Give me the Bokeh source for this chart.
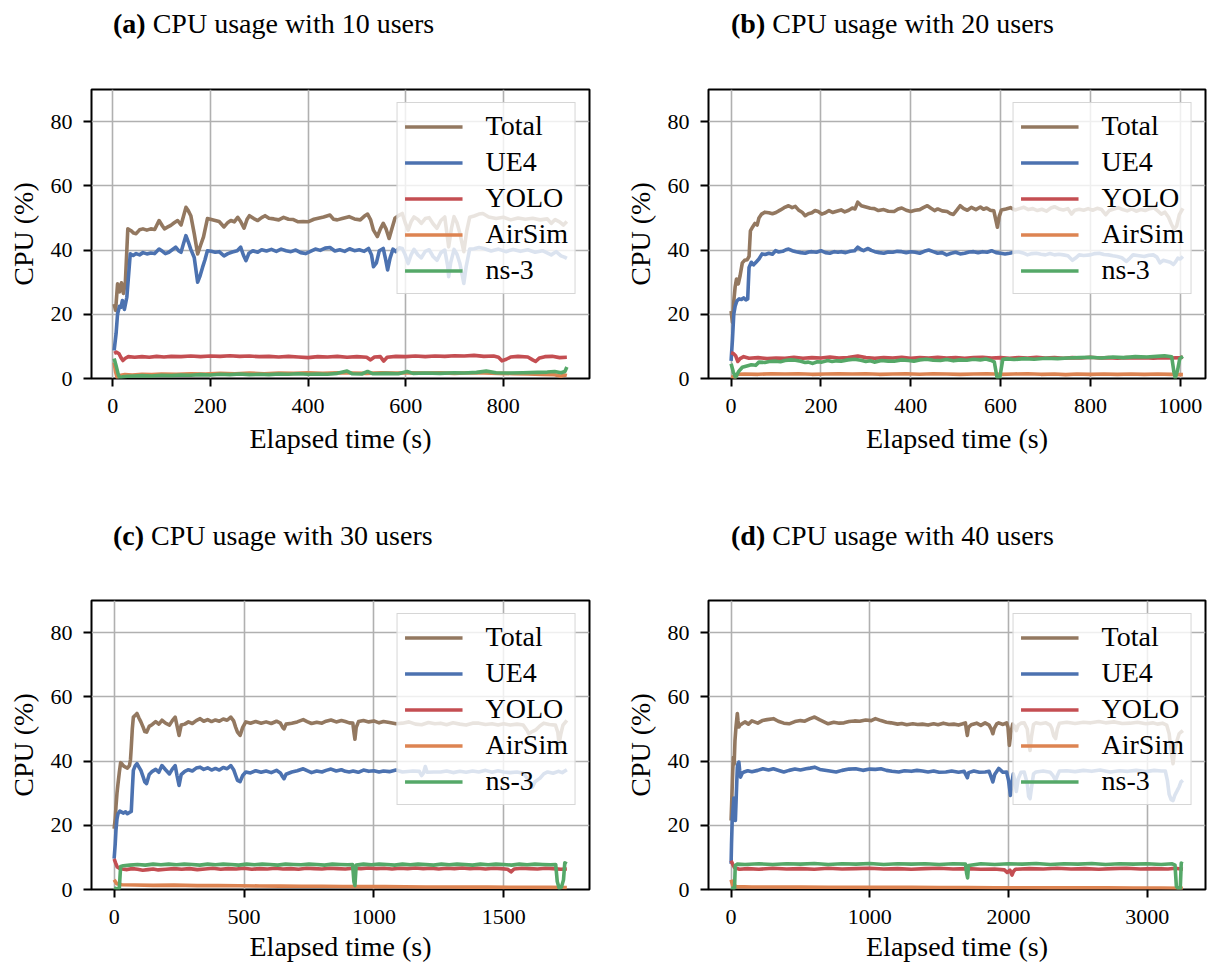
from bokeh.plotting import figure
from bokeh.models import Range1d, Legend, LegendItem, FixedTicker, Div
from bokeh.layouts import row, column
from bokeh.embed import file_html
from bokeh.resources import INLINE

FONT = "Liberation Serif"
SERIES = ["Total", "UE4", "YOLO", "AirSim", "ns-3"]
COLORS = ["#937860", "#4C72B0", "#C44E52", "#DD8452", "#55A868"]

USERS = [10, 20, 30, 40]
LETTERS = ["a", "b", "c", "d"]
X_TICKS_A = [0, 200, 400, 600, 800]
X_TICKS_B = [0, 200, 400, 600, 800, 1000]
X_TICKS_C = [0, 500, 1000, 1500]
X_TICKS_D = [0, 1000, 2000, 3000]
Y_TICKS = [0, 20, 40, 60, 80]

# ---------------- panel (a): 10 users ----------------
A_TOTAL = [(3, 23.2), (6, 21.2), (10, 29.5), (14, 27), (18, 29.8), (22, 26.5), (26, 30), (31, 46.6), (37, 46.1),
           (43, 45.3), (48, 45.1), (55, 46.3), (62, 46.6), (70, 46.2), (78, 46.6), (86, 46.4), (95, 49.2), (102, 47.5),
           (106, 46.6), (113, 47.2), (119, 47.7), (126, 48.5), (133, 49.2), (140, 47.8), (145, 50.5), (150, 53.3),
           (155, 52.2), (160, 50.7), (167, 45.1), (174, 38.8), (180, 41.5), (186, 44.1), (194, 49.8), (202, 49.5),
           (210, 49.2), (218, 48.9), (228, 47.2), (236, 48.6), (242, 49.2), (249, 48.8), (256, 50.2), (262, 48.9),
           (269, 46.8), (275, 49.5), (280, 50.7), (289, 49.8), (297, 49.2), (305, 50.1), (312, 50.7), (320, 49.9),
           (330, 49.7), (340, 49.4), (350, 50.2), (360, 49.6), (370, 49.5), (380, 48.8), (390, 48.9), (400, 48.8),
           (412, 49.6), (421, 49.9), (432, 50.3), (445, 50.9), (452, 49.6), (460, 49.4), (470, 49.8), (484, 50.4),
           (495, 49.7), (507, 49.4), (515, 50.5), (522, 51.2), (528, 49.5), (534, 46.2), (542, 44.2), (548, 46.5),
           (554, 48.3), (560, 46.5), (566, 43.6), (572, 46.8), (578, 49.9), (586, 50.8), (593, 51.4), (599, 48.5),
           (605, 46.2), (611, 48.8), (617, 50.3), (625, 49.5), (632, 48.3), (640, 49.8), (648, 50.1), (656, 48.2),
           (664, 46.8), (672, 49.2), (680, 50.3), (688, 41), (694, 47), (699, 50.4), (705, 48.5), (711, 45.2),
           (719, 39.5), (725, 46), (731, 50.2), (740, 50.6), (750, 51.2), (758, 51.4), (770, 50.3), (785, 49.8),
           (800, 50.2), (815, 49.4), (830, 50), (845, 49.6), (860, 49.9), (875, 49.4), (890, 49.7), (898, 48.3),
           (906, 49.5), (915, 48.8), (923, 47.8), (930, 48.9)]
A_UE4 = [(3, 8.7), (7, 14), (10, 20.1), (14, 22.5), (17, 22.2), (20, 24.3), (24, 21.5), (29, 25.3), (33, 33),
         (36, 38.8), (42, 38.3), (48, 38.9), (55, 38.5), (62, 39.2), (70, 38.8), (78, 39.1), (86, 38.9), (95, 40.3),
         (102, 39.6), (108, 38.9), (115, 39.3), (122, 40.1), (129, 40.9), (135, 39.8), (140, 39.3), (145, 42),
         (150, 44.5), (155, 42.5), (160, 40.2), (167, 37.7), (174, 30), (179, 32), (184, 34.6), (189, 37), (194, 39.8),
         (202, 39.6), (210, 39.3), (218, 39.5), (228, 38.2), (236, 38.9), (245, 39.4), (255, 39.8), (262, 40.9),
         (268, 38.3), (273, 36.7), (279, 39), (287, 39.8), (297, 39.3), (305, 40.1), (315, 39.7), (325, 40.2),
         (335, 39.6), (345, 40.3), (355, 39.8), (365, 39.5), (375, 40), (385, 39.2), (395, 38.9), (405, 39.6),
         (415, 40.3), (425, 39.9), (435, 40.6), (445, 40.8), (455, 39.7), (465, 40.1), (475, 39.6), (485, 40.4),
         (495, 39.8), (505, 40.1), (515, 39.6), (524, 40.5), (530, 38.5), (534, 34.8), (540, 36), (546, 39.8),
         (554, 40.5), (559, 37), (563, 33.8), (568, 37.5), (574, 40.3), (580, 39.5), (587, 40.7), (593, 40.5),
         (599, 38.5), (605, 35.8), (611, 38.5), (617, 40.2), (625, 38.5), (632, 37.6), (640, 39.6), (648, 40.1),
         (656, 38), (664, 36.8), (672, 39.2), (680, 40), (686, 35), (688, 31.7), (692, 36), (699, 40.2), (705, 38.7),
         (711, 35.8), (716, 32), (719, 29.6), (724, 35), (731, 40.3), (740, 40.4), (750, 40.8), (760, 40.5),
         (775, 39.7), (790, 40.3), (805, 39.5), (820, 40.2), (835, 39.6), (850, 40.1), (865, 39.3), (880, 39.8),
         (898, 38.5), (908, 39.5), (918, 38.2), (925, 37.8), (930, 37.4)]
A_YOLO = [(3, 7.8), (8, 8.2), (13, 7.7), (17, 6.5), (21, 5.6), (26, 6.3), (32, 6.8), (45, 6.6), (60, 6.8), (75, 6.6),
          (90, 6.9), (105, 6.7), (120, 6.9), (140, 6.8), (160, 7.0), (180, 6.8), (200, 7.0), (220, 6.9), (240, 7.1),
          (260, 6.9), (280, 7.0), (300, 6.8), (320, 6.9), (340, 6.7), (360, 6.9), (380, 6.7), (400, 6.5), (420, 6.8),
          (440, 6.7), (460, 6.9), (480, 6.6), (500, 6.8), (520, 6.6), (528, 5.8), (536, 6.7), (548, 6.8), (555, 5.4),
          (562, 6.6), (580, 6.9), (600, 6.8), (620, 7.0), (640, 6.8), (660, 7.0), (680, 6.9), (700, 7.1), (720, 7.0),
          (740, 7.2), (760, 6.9), (780, 7.0), (790, 6.6), (797, 5.5), (806, 6.0), (815, 6.7), (830, 6.9), (850, 6.7),
          (860, 5.8), (866, 5.3), (874, 6.4), (885, 6.8), (900, 6.9), (915, 6.5), (930, 6.6)]
A_AIRSIM = [(3, 5.0), (6, 2.0), (9, 0.4), (14, 0.9), (25, 1.2), (40, 1.1), (60, 1.3), (80, 1.2), (100, 1.4),
            (130, 1.3), (160, 1.5), (190, 1.4), (220, 1.6), (250, 1.5), (280, 1.7), (310, 1.5), (340, 1.7), (370, 1.6),
            (400, 1.8), (430, 1.6), (460, 1.8), (490, 1.7), (520, 1.6), (550, 1.8), (580, 1.7), (610, 1.8), (640, 1.7),
            (670, 1.8), (700, 1.6), (730, 1.8), (760, 1.7), (790, 1.6), (820, 1.5), (850, 1.4), (880, 1.3), (905, 1.2),
            (918, 0.7), (925, 1.1), (930, 0.9)]
A_NS3 = [(3, 6.2), (7, 4.0), (11, 1.5), (14, 0.3), (20, 0.5), (30, 0.7), (45, 0.8), (60, 0.9), (80, 0.8), (100, 1.0),
         (120, 0.9), (140, 1.1), (160, 1.0), (180, 1.2), (200, 1.1), (220, 1.3), (240, 1.2), (260, 1.4), (280, 1.2),
         (300, 1.3), (320, 1.2), (340, 1.4), (360, 1.3), (380, 1.5), (400, 1.3), (420, 1.4), (440, 1.3), (460, 1.6),
         (480, 2.3), (490, 1.5), (510, 1.4), (522, 2.2), (532, 1.5), (560, 1.6), (585, 1.5), (603, 2.2), (615, 1.6),
         (640, 1.7), (670, 1.6), (700, 1.8), (720, 1.7), (745, 1.9), (765, 2.3), (785, 1.8), (810, 1.7), (840, 1.8),
         (870, 1.9), (890, 2.0), (905, 2.2), (918, 1.8), (926, 2.2), (930, 3.6)]

# ---------------- panel (b): 20 users ----------------
B_TOTAL = [(0, 21), (3, 17.5), (6, 24), (9, 28.5), (12, 31), (16, 29.5), (20, 32), (25, 36), (30, 36.8), (36, 37),
           (40, 38), (43, 46), (48, 47.2), (53, 48.3), (58, 47.8), (62, 50), (68, 51.2), (75, 51.8), (84, 51.6),
           (92, 51.3), (100, 51.7), (110, 52.5), (118, 53.2), (128, 53.8), (136, 53.2), (143, 53.6), (150, 52.5),
           (158, 51.8), (165, 50.7), (172, 51.3), (180, 51.6), (187, 52.3), (194, 52), (202, 51.2), (210, 51.6),
           (218, 52.3), (226, 51.7), (235, 52.1), (245, 52.5), (253, 51.9), (262, 52.4), (270, 53.1), (276, 52.8),
           (282, 54.9), (290, 53.8), (300, 53.4), (310, 53), (319, 52.9), (328, 52.3), (340, 52.6), (350, 52.1),
           (363, 52), (372, 52.8), (380, 53.1), (390, 52.4), (400, 52), (410, 52.4), (420, 52.6), (428, 53.2),
           (437, 53.8), (445, 53), (453, 52.3), (460, 52.8), (470, 52.2), (481, 52), (488, 51.4), (495, 51.1),
           (503, 52.5), (510, 53.8), (518, 52.9), (526, 52.4), (535, 53.3), (545, 52.6), (555, 53.4), (562, 52.7),
           (569, 53.1), (577, 52.4), (585, 52.2), (590, 49), (593, 47.1), (597, 50.5), (602, 52.5), (612, 52.8),
           (622, 53.2), (632, 52.5), (642, 52.9), (652, 53.3), (662, 52.6), (672, 52.9), (682, 52.3), (692, 52.7),
           (702, 52.1), (712, 53.1), (720, 53.5), (730, 52.8), (740, 52.5), (750, 52.9), (758, 51.2), (765, 52.4),
           (775, 52.7), (785, 52.4), (795, 52.9), (805, 52.4), (815, 53), (825, 52.6), (834, 51), (842, 52.3),
           (852, 52.8), (862, 53.2), (872, 52.6), (882, 52.2), (892, 52.8), (902, 52.1), (912, 52.6), (922, 52.3),
           (932, 52.9), (942, 53.1), (950, 52.2), (958, 51.2), (966, 51.8), (974, 50.2), (980, 48.2), (986, 46.5),
           (992, 47.5), (998, 51), (1006, 53)]
B_UE4 = [(0, 5.5), (3, 12), (6, 20), (9, 22.5), (13, 24.2), (18, 24.8), (23, 24.6), (28, 25.1), (33, 24.5),
         (37, 24.8), (40, 34.6), (45, 36.2), (50, 35.4), (56, 36.3), (62, 37.2), (69, 38.8), (76, 38.6), (84, 39),
         (92, 38.7), (99, 39.8), (106, 39.4), (115, 39.6), (122, 40.1), (128, 40.3), (136, 39.8), (145, 39.5),
         (155, 39.2), (165, 39), (173, 39.4), (180, 39.5), (190, 39.3), (200, 39.8), (210, 39.2), (220, 39),
         (230, 39.5), (238, 39.3), (245, 39.5), (255, 39.2), (265, 39.6), (275, 39.8), (282, 40.9), (290, 40.1),
         (295, 39.8), (305, 40.5), (312, 39.9), (320, 39.5), (330, 39.2), (340, 39), (350, 39.4), (360, 39.3),
         (370, 39.6), (380, 39.5), (390, 39.2), (400, 39.5), (410, 39.3), (420, 39), (430, 39.6), (440, 40),
         (450, 39.5), (460, 39), (470, 39.2), (480, 38.5), (490, 39), (500, 39.3), (510, 38.8), (520, 39), (530, 39.4),
         (540, 39.5), (550, 39.2), (560, 39.5), (570, 39.3), (580, 39.8), (590, 39.2), (600, 39), (610, 38.8),
         (620, 39), (630, 39.3), (640, 39.5), (650, 39.1), (660, 38.5), (670, 38.9), (680, 39), (690, 38.7),
         (700, 38.5), (710, 38.9), (720, 38.5), (730, 38.7), (740, 38.5), (750, 38.2), (760, 36.8), (767, 37.5),
         (775, 38.5), (785, 38.3), (800, 38.5), (810, 38.9), (820, 39), (830, 38.6), (840, 38.5), (850, 38.2),
         (860, 38), (870, 37.6), (880, 36.5), (888, 37.5), (895, 38.5), (905, 38.3), (920, 38), (930, 38.4),
         (940, 38.5), (948, 37.8), (955, 36), (962, 36.8), (970, 36.5), (978, 36.2), (985, 35.5), (990, 36.4),
         (995, 37.5), (1000, 37.2), (1006, 38)]
B_YOLO = [(0, 8), (5, 7.8), (10, 7.1), (15, 5.3), (20, 6.2), (28, 6.8), (40, 6.3), (60, 6.5), (80, 6.2), (100, 6.4),
          (120, 6.3), (140, 6.6), (160, 6.3), (180, 6.5), (200, 6.4), (220, 6.7), (240, 6.4), (260, 6.5), (282, 7.0),
          (300, 6.5), (320, 6.3), (340, 6.5), (360, 6.4), (380, 6.6), (400, 6.3), (420, 6.5), (440, 6.4), (460, 6.6),
          (480, 6.4), (500, 6.5), (520, 6.3), (540, 6.5), (560, 6.6), (580, 6.4), (600, 6.5), (620, 6.3), (640, 6.5),
          (660, 6.4), (680, 6.6), (700, 6.4), (720, 6.5), (740, 6.3), (760, 6.5), (780, 6.4), (800, 6.6), (820, 6.4),
          (840, 6.5), (860, 6.3), (880, 6.5), (900, 6.4), (920, 6.5), (940, 6.3), (960, 6.5), (980, 6.4), (1000, 6.5),
          (1006, 6.6)]
B_AIRSIM = [(0, 0.6), (8, 0.3), (15, 1.3), (30, 1.4), (60, 1.3), (90, 1.5), (120, 1.4), (150, 1.5), (180, 1.3),
            (210, 1.4), (240, 1.5), (270, 1.4), (300, 1.5), (330, 1.3), (360, 1.4), (390, 1.5), (420, 1.3), (450, 1.5),
            (480, 1.4), (510, 1.3), (540, 1.4), (570, 1.5), (600, 1.3), (630, 1.4), (660, 1.5), (690, 1.3), (720, 1.4),
            (745, 1.2), (770, 1.4), (800, 1.3), (830, 1.4), (860, 1.3), (890, 1.4), (920, 1.3), (950, 1.4), (980, 1.3),
            (1006, 1.2)]
B_NS3 = [(0, 4.6), (5, 2), (10, 0.3), (17, 2.2), (25, 3.5), (35, 3.9), (45, 4.3), (55, 4.1), (62, 5.1), (75, 5.0),
         (85, 5.3), (99, 5.4), (110, 5.2), (120, 5.6), (133, 5.8), (143, 5.7), (155, 5.4), (165, 5.0), (172, 5.1),
         (182, 4.7), (192, 5.2), (202, 5.1), (215, 5.6), (225, 5.3), (235, 5.5), (245, 5.4), (260, 5.8), (275, 6.0),
         (289, 5.7), (300, 5.3), (310, 5.5), (319, 5.1), (335, 5.6), (350, 5.4), (363, 5.4), (380, 5.8), (395, 5.6),
         (407, 5.4), (420, 5.8), (435, 6.0), (450, 5.7), (466, 5.6), (480, 5.9), (495, 5.5), (510, 5.8), (525, 5.7),
         (540, 6.0), (555, 5.8), (567, 6.1), (577, 5.7), (586, 5.2), (592, 0.4), (598, 0.1), (605, 6.0), (615, 6.1),
         (630, 5.9), (653, 6.2), (675, 6.0), (700, 6.3), (727, 6.2), (750, 6.4), (775, 6.5), (800, 6.6), (825, 6.4),
         (850, 6.7), (874, 6.5), (900, 6.8), (925, 6.7), (948, 6.9), (965, 7.1), (981, 6.8), (986, 2), (989, 0.2),
         (994, 2.5), (999, 6.2), (1006, 6.9)]

# ---------------- panel (c): 30 users ----------------
C_TOTAL = [(0, 18.9), (4, 22), (7, 25.7), (11, 30), (15, 33), (20, 36.5), (25, 39.5), (29, 39.2), (36, 38.5),
           (44, 38.1), (51, 37.8), (59, 38.6), (63, 40.5), (66, 44.3), (70, 50), (74, 53.7), (81, 54.2), (88, 54.8),
           (95, 53.5), (103, 52.2), (112, 50.5), (118, 49.2), (125, 49), (135, 50.8), (147, 51.4), (160, 52.3),
           (172, 51.5), (184, 52.7), (198, 51.8), (213, 51.2), (224, 52.6), (235, 53.7), (242, 51), (250, 48),
           (258, 51.2), (272, 51.5), (286, 52.2), (301, 51.7), (316, 52.6), (331, 53.2), (345, 52.4), (360, 52.9),
           (375, 52.3), (390, 52.8), (405, 52.4), (420, 53.1), (435, 52.7), (449, 53.7), (460, 52.5), (468, 50.5),
           (475, 49), (485, 48), (495, 50.5), (507, 52.2), (525, 51.8), (545, 52.3), (566, 51.8), (585, 52.2),
           (605, 51.7), (625, 52.4), (640, 51.8), (648, 50.6), (654, 50), (662, 51.5), (684, 51.8), (705, 52.2),
           (728, 52.9), (743, 52.3), (760, 51.7), (780, 52.1), (800, 51.8), (816, 52.4), (835, 52.8), (855, 52.2),
           (875, 52.6), (890, 52.3), (905, 51.9), (919, 51.8), (924, 48.5), (927, 46.8), (932, 50.5), (941, 52.3),
           (960, 52.6), (980, 52.2), (1000, 52.5), (1020, 51.9), (1037, 52.3), (1060, 52.0), (1085, 51.6),
           (1110, 51.8), (1135, 52.2), (1160, 51.5), (1184, 51.3), (1210, 52), (1235, 51.6), (1257, 51.8),
           (1280, 51.3), (1305, 51.9), (1331, 51.5), (1355, 51.2), (1380, 51.8), (1404, 51.8), (1430, 51.4),
           (1455, 51.6), (1478, 51.2), (1500, 51.6), (1525, 51.2), (1551, 51.5), (1575, 51.2), (1590, 49.5),
           (1596, 48.5), (1610, 49.2), (1625, 49.8), (1640, 51), (1654, 51.8), (1675, 51.4), (1699, 51.2), (1708, 49),
           (1713, 45.4), (1720, 48.5), (1728, 51.2), (1743, 52.7)]
C_UE4 = [(0, 9.6), (4, 14), (7, 18.4), (11, 22), (15, 23.6), (22, 24.4), (29, 24.1), (36, 23.8), (44, 24.2),
         (51, 23.6), (59, 24), (66, 24.3), (70, 31), (74, 37.1), (81, 38.5), (88, 39.2), (95, 38.2), (103, 37.1),
         (112, 35), (118, 33.5), (125, 33), (135, 35.8), (147, 36.8), (160, 37.4), (172, 36.5), (184, 38.6),
         (198, 37.3), (213, 36), (224, 37.5), (235, 38.6), (242, 35.5), (250, 32.4), (258, 35.8), (272, 36.8),
         (286, 37.3), (301, 36.9), (316, 37.8), (331, 38.1), (345, 37.4), (360, 37.9), (375, 37.2), (390, 37.7),
         (405, 37.2), (420, 38), (435, 37.6), (449, 38.6), (460, 37.3), (468, 35.5), (475, 34), (485, 33.6),
         (495, 35.5), (507, 36.6), (525, 36.3), (545, 37), (566, 36.5), (585, 36.9), (605, 36.4), (625, 37.1),
         (640, 36.3), (648, 35.2), (654, 34.5), (662, 35.9), (684, 36.6), (705, 37), (728, 37.6), (743, 37),
         (760, 36.4), (780, 36.9), (800, 36.6), (816, 37.1), (835, 37.5), (855, 36.9), (875, 37.3), (890, 36.8),
         (905, 36.6), (920, 36.9), (940, 36.5), (960, 37.2), (980, 36.8), (1000, 37), (1020, 36.6), (1037, 36.9),
         (1060, 36.7), (1085, 37.2), (1110, 36.6), (1150, 36.9), (1175, 36.8), (1184, 35.5), (1191, 36.3),
         (1198, 38.3), (1205, 36.5), (1230, 36.6), (1257, 36.6), (1280, 36.9), (1305, 36.4), (1331, 36.8),
         (1355, 36.5), (1380, 36.9), (1404, 36.6), (1430, 37.1), (1455, 36.5), (1478, 37), (1500, 36.6),
         (1525, 36.4), (1551, 36.6), (1575, 36.2), (1592, 34.5), (1603, 33), (1610, 31.9), (1620, 33.5),
         (1640, 34.7), (1654, 36), (1669, 36.6), (1690, 36.2), (1710, 36.8), (1725, 36.4), (1743, 37.3)]
C_YOLO = [(0, 9.5), (6, 8.2), (12, 7), (20, 6.6), (30, 6.4), (50, 6.2), (70, 6.5), (90, 6.3), (110, 6.0), (130, 6.2),
          (150, 6.4), (170, 6.1), (200, 6.3), (230, 6.5), (260, 6.3), (290, 6.5), (320, 6.2), (350, 6.4), (380, 6.6),
          (410, 6.3), (440, 6.5), (470, 6.4), (500, 6.6), (530, 6.3), (560, 6.5), (590, 6.4), (620, 6.6), (650, 6.4),
          (680, 6.5), (710, 6.3), (740, 6.6), (770, 6.5), (800, 6.4), (830, 6.6), (860, 6.5), (890, 6.4), (920, 6.6),
          (950, 6.5), (980, 6.7), (1010, 6.5), (1040, 6.6), (1070, 6.4), (1100, 6.6), (1130, 6.5), (1160, 6.7),
          (1190, 6.5), (1220, 6.6), (1250, 6.4), (1280, 6.6), (1310, 6.5), (1340, 6.7), (1370, 6.5), (1400, 6.6),
          (1430, 6.4), (1460, 6.6), (1490, 6.5), (1515, 6.3), (1528, 5.5), (1540, 6.4), (1570, 6.6), (1600, 6.5),
          (1630, 6.4), (1660, 6.6), (1690, 6.5), (1720, 6.3), (1743, 6.4)]
C_AIRSIM = [(0, 3.0), (10, 1.8), (30, 1.5), (80, 1.4), (150, 1.3), (230, 1.35), (320, 1.2), (400, 1.25), (480, 1.15),
            (560, 1.1), (640, 1.05), (720, 1.0), (800, 1.0), (880, 0.95), (960, 0.9), (1040, 0.9), (1120, 0.85),
            (1200, 0.8), (1280, 0.8), (1360, 0.75), (1440, 0.75), (1520, 0.7), (1600, 0.7), (1680, 0.65), (1743, 0.6)]
C_NS3 = [(0, 0.5), (10, 0.2), (20, 0.4), (25, 7.2), (35, 7.4), (60, 7.6), (90, 7.8), (120, 7.6), (150, 7.9),
         (180, 7.7), (210, 7.9), (240, 7.7), (270, 7.9), (300, 7.8), (330, 7.6), (360, 7.9), (390, 7.7), (420, 7.9),
         (450, 7.8), (480, 7.6), (510, 7.9), (540, 7.7), (570, 7.9), (600, 7.8), (630, 7.6), (660, 7.9), (690, 7.8),
         (720, 7.7), (750, 7.9), (780, 7.8), (810, 7.6), (840, 7.9), (870, 7.8), (900, 7.7), (918, 7.8), (923, 2.5),
         (927, 1.2), (932, 7.6), (960, 7.9), (990, 7.7), (1020, 7.9), (1050, 7.8), (1080, 7.6), (1110, 7.9),
         (1140, 7.7), (1170, 7.9), (1200, 7.8), (1230, 7.6), (1260, 7.9), (1290, 7.7), (1320, 7.9), (1350, 7.8),
         (1380, 7.6), (1410, 7.9), (1440, 7.7), (1470, 7.9), (1500, 7.8), (1530, 7.6), (1560, 7.9), (1590, 7.7),
         (1620, 7.9), (1650, 7.8), (1680, 7.7), (1700, 7.8), (1706, 2.5), (1713, 0.5), (1722, 0.7), (1730, 3),
         (1735, 8.3), (1743, 8.0)]

# ---------------- panel (d): 40 users ----------------
D_TOTAL = [(0, 21.5), (5, 28), (8, 31.9), (12, 37), (17, 41.2), (22, 39), (28, 46.4), (35, 50.5), (45, 54.8),
           (50, 52.5), (56, 50.6), (65, 51.3), (79, 51.6), (100, 52.2), (125, 51.5), (150, 52.5), (192, 51.8),
           (225, 52.6), (260, 52.9), (305, 53.2), (340, 52.4), (380, 51.8), (418, 51.6), (460, 52.3), (500, 52.6),
           (531, 52.4), (570, 53.2), (602, 53.7), (640, 52.8), (700, 51.6), (740, 52.1), (780, 51.8), (814, 51.9),
           (850, 52.3), (890, 52.5), (927, 52.4), (970, 52.8), (1010, 52.6), (1040, 53.2), (1080, 52.6), (1120, 52.1),
           (1153, 51.9), (1200, 51.5), (1230, 51.7), (1266, 51.3), (1310, 51.6), (1345, 51.4), (1379, 51.5),
           (1420, 51.2), (1460, 51.6), (1492, 51.3), (1530, 51.8), (1570, 51.4), (1605, 51.5), (1640, 51.2),
           (1670, 51.6), (1689, 51.9), (1697, 49.5), (1703, 48), (1711, 50.5), (1731, 51.3), (1770, 51.8), (1800, 51.1),
           (1831, 51.9), (1860, 51.2), (1877, 49.8), (1887, 48.5), (1897, 50.2), (1915, 51.6), (1929, 51.9),
           (1960, 51.4), (1986, 51.9), (1996, 50.5), (2006, 44.9), (2016, 48.5), (2030, 51.5), (2045, 50.8),
           (2056, 49.5), (2070, 51.2), (2090, 51.8), (2113, 51.9), (2135, 50), (2148, 45), (2155, 43.3), (2165, 47.5),
           (2180, 51.4), (2198, 51.9), (2230, 51.6), (2270, 51.9), (2300, 51.2), (2311, 50.3), (2326, 47.8),
           (2339, 47), (2352, 50), (2367, 51.8), (2420, 52.1), (2480, 51.7), (2540, 52.1), (2593, 51.9), (2650, 52.3),
           (2700, 51.9), (2760, 52.2), (2820, 51.7), (2876, 51.8), (2930, 52.1), (2990, 51.6), (3040, 51.9),
           (3073, 51.5), (3110, 51.8), (3140, 51.2), (3158, 48.5), (3172, 43), (3186, 39.2), (3200, 44), (3215, 46.4),
           (3230, 48.5), (3243, 49), (3257, 49.5)]
D_UE4 = [(0, 8), (3, 14), (8, 21.5), (14, 25), (20, 28.5), (23, 27.7), (27, 23), (31, 21.5), (38, 30), (45, 38.1),
         (50, 39.2), (56, 39.7), (62, 37), (68, 35), (80, 36.2), (93, 36.6), (120, 37), (150, 36.7), (192, 37.1),
         (230, 37.6), (270, 37.2), (305, 37.6), (350, 37), (380, 36.6), (418, 37.1), (460, 37.5), (500, 37.2),
         (540, 37.6), (570, 37.8), (602, 38.1), (640, 37.4), (700, 37), (757, 36.6), (800, 37.1), (850, 37.5),
         (898, 37.6), (950, 37.1), (1000, 37.5), (1040, 37.4), (1080, 37.6), (1120, 37.1), (1160, 36.8), (1209, 36.6),
         (1250, 37), (1300, 36.8), (1340, 37.1), (1379, 36.9), (1420, 36.6), (1460, 36.9), (1500, 36.5), (1548, 36.6),
         (1590, 36.9), (1640, 36.5), (1680, 36.8), (1695, 35.5), (1703, 34.8), (1712, 36.4), (1750, 36.9),
         (1790, 36.5), (1831, 36.6), (1860, 36.8), (1875, 35), (1887, 33.5), (1900, 35.8), (1929, 37.7), (1960, 36.5),
         (1986, 36.6), (2000, 34), (2014, 29.3), (2024, 33), (2034, 36), (2045, 34), (2056, 30.5), (2070, 34.5),
         (2090, 36.5), (2113, 36.6), (2135, 33), (2145, 29), (2155, 28.3), (2165, 31.5), (2180, 36), (2198, 36.6),
         (2250, 36.9), (2300, 36.5), (2320, 35.5), (2339, 34), (2352, 35.5), (2367, 36.9), (2420, 37), (2480, 36.7),
         (2540, 37.1), (2600, 36.8), (2660, 37.2), (2734, 36.6), (2800, 37), (2860, 36.8), (2920, 37.1), (2990, 36.7),
         (3050, 37.1), (3100, 36.9), (3130, 36.9), (3145, 34), (3158, 29.6), (3172, 28), (3186, 27.7), (3200, 29.5),
         (3215, 30.7), (3230, 32), (3243, 33.5), (3257, 34)]
D_YOLO = [(0, 9), (10, 8), (25, 6.8), (60, 6.3), (120, 6.5), (200, 6.3), (300, 6.6), (400, 6.4), (500, 6.5),
          (600, 6.3), (700, 6.6), (800, 6.4), (900, 6.5), (1000, 6.6), (1100, 6.4), (1200, 6.5), (1300, 6.3),
          (1400, 6.5), (1500, 6.6), (1600, 6.4), (1700, 6.5), (1800, 6.3), (1900, 6.4), (1970, 6.1), (1990, 5.3),
          (2010, 6.0), (2025, 4.5), (2035, 5.6), (2050, 6.3), (2150, 6.5), (2250, 6.4), (2350, 6.6), (2450, 6.4),
          (2550, 6.5), (2650, 6.3), (2750, 6.5), (2850, 6.6), (2950, 6.4), (3050, 6.5), (3150, 6.4), (3200, 6.6),
          (3257, 6.3)]
D_AIRSIM = [(0, 3.0), (12, 1.2), (40, 0.9), (150, 0.8), (300, 0.8), (500, 0.75), (700, 0.7), (900, 0.7), (1100, 0.65),
            (1300, 0.65), (1500, 0.6), (1700, 0.6), (1900, 0.55), (2100, 0.55), (2300, 0.5), (2500, 0.5), (2700, 0.5),
            (2900, 0.45), (3100, 0.45), (3257, 0.4)]
D_NS3 = [(0, 0.5), (15, 0.3), (25, 0.5), (30, 7.5), (45, 7.9), (100, 7.8), (200, 8.0), (300, 7.8), (400, 8.0),
         (500, 7.9), (600, 8.1), (700, 7.8), (800, 8.0), (900, 7.9), (1000, 8.1), (1100, 7.8), (1200, 8.0), (1300, 7.9),
         (1400, 8.0), (1500, 7.8), (1600, 8.0), (1690, 7.9), (1698, 5), (1705, 3.6), (1712, 7.5), (1800, 8.0),
         (1900, 7.8), (2000, 8.0), (2100, 7.9), (2200, 8.1), (2300, 7.8), (2400, 8.0), (2500, 7.9), (2600, 8.1),
         (2700, 7.8), (2800, 8.0), (2900, 7.9), (3000, 8.0), (3100, 7.8), (3180, 8.0), (3200, 7.6), (3210, 1),
         (3225, 0.2), (3238, 0.3), (3245, 8.2), (3257, 8.0)]

PANEL_DATA = [
    [A_TOTAL, A_UE4, A_YOLO, A_AIRSIM, A_NS3],
    [B_TOTAL, B_UE4, B_YOLO, B_AIRSIM, B_NS3],
    [C_TOTAL, C_UE4, C_YOLO, C_AIRSIM, C_NS3],
    [D_TOTAL, D_UE4, D_YOLO, D_AIRSIM, D_NS3],
]
PANEL_TICKS = [X_TICKS_A, X_TICKS_B, X_TICKS_C, X_TICKS_D]

# layout geometry (pixels); page has no margin in the rendered output
W = 608
TITLE_H = 40
GEOM = [
    dict(height=480, left=91, right=19, top=49, bottom=142, title_pad_left=113, title_pad_top=10, label_gap=7),
    dict(height=480, left=100, right=11, top=49, bottom=142, title_pad_left=123, title_pad_top=10, label_gap=7),
    dict(height=405, left=91, right=19, top=40, bottom=76, title_pad_left=113, title_pad_top=2, label_gap=4),
    dict(height=405, left=100, right=11, top=40, bottom=76, title_pad_left=123, title_pad_top=2, label_gap=4),
]


def make_panel(i):
    g = GEOM[i]
    series = PANEL_DATA[i]
    t_all = [t for s in series for t, _ in s]
    lo, hi = min(t_all), max(t_all)
    pad = 0.05 * (hi - lo)
    p = figure(width=W, height=g["height"],
               x_range=Range1d(lo - pad, hi + pad), y_range=Range1d(0, 90),
               output_backend="svg", toolbar_location=None,
               min_border_left=g["left"], min_border_right=g["right"],
               min_border_top=g["top"], min_border_bottom=g["bottom"],
               background_fill_color="white", border_fill_color="white")
    p.outline_line_color = "black"
    p.outline_line_width = 2
    p.outline_line_alpha = 1.0

    p.xaxis.ticker = FixedTicker(ticks=PANEL_TICKS[i])
    p.yaxis.ticker = FixedTicker(ticks=Y_TICKS)
    p.xaxis.axis_label = "Elapsed time (s)"
    p.yaxis.axis_label = "CPU (%)"
    for ax in (p.xaxis[0], p.yaxis[0]):
        ax.axis_line_color = None
        ax.major_tick_line_color = "black"
        ax.major_tick_line_width = 2
        ax.major_tick_out = 8
        ax.major_tick_in = 0
        ax.minor_tick_line_color = None
        ax.major_label_text_font = FONT
        ax.major_label_text_font_size = "22px"
        ax.major_label_text_color = "black"
        ax.axis_label_text_font = FONT
        ax.axis_label_text_font_size = "28px"
        ax.axis_label_text_font_style = "normal"
        ax.axis_label_text_color = "black"
    p.xaxis.major_label_standoff = 12
    p.xaxis.axis_label_standoff = g["label_gap"]
    p.yaxis.major_label_standoff = 11
    p.yaxis.axis_label_standoff = 9

    p.grid.grid_line_color = "#b0b0b0"
    p.grid.grid_line_width = 1.6

    items = []
    for name, color, data in zip(SERIES, COLORS, series):
        xs = [t for t, _ in data]
        ys = [v for _, v in data]
        r = p.line(xs, ys, line_color=color, line_width=3.6, line_join="round")
        items.append(LegendItem(label=name, renderers=[r]))

    legend = Legend(items=items, location="top_right", margin=13, padding=7, spacing=4,
                    glyph_width=58, glyph_height=31, label_height=31, label_standoff=23,
                    label_text_font=FONT, label_text_font_size="28px", label_text_color="black",
                    background_fill_color="white", background_fill_alpha=0.8,
                    border_line_color="#cccccc", border_line_width=1.5, border_line_alpha=0.8)
    p.add_layout(legend)

    title = Div(
        text=(f'<div style="padding-left:{g["title_pad_left"]}px; padding-top:{g["title_pad_top"]}px; '
              f'font-family:\'{FONT}\'; font-size:28px; line-height:28px; color:black; white-space:nowrap;">'
              f'<b>({LETTERS[i]})</b> CPU usage with {USERS[i]} users</div>'),
        width=W, height=TITLE_H, margin=0)
    return column(title, p, spacing=0)


panels = [make_panel(i) for i in range(4)]
layout = column(row(panels[0], panels[1], spacing=0), row(panels[2], panels[3], spacing=0), spacing=0)

open("out.html", "w").write(file_html(layout, INLINE))
